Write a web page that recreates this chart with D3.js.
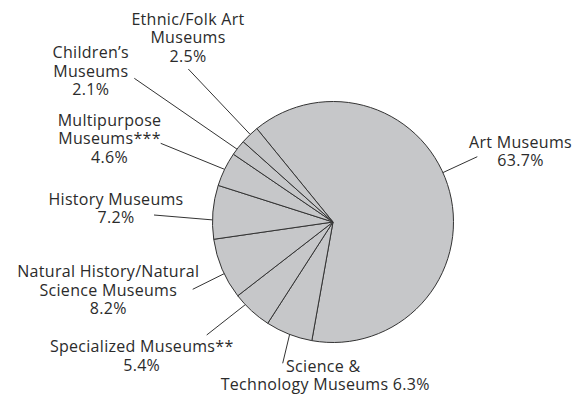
<!DOCTYPE html>
<html>
<head>
<meta charset="utf-8">
<script src="https://cdn.jsdelivr.net/npm/d3@7"></script>
<style>
  html, body { margin: 0; padding: 0; background: #fff; }
  svg { display: block; }
  text { font-family: "Open Sans", "DejaVu Sans", sans-serif; fill: #2b2b2b; }
</style>
</head>
<body>
<svg id="chart" width="581" height="396"></svg>
<script>
// Museum types, clockwise from the top-right
const categories = [
  "Art Museums",
  "Science & Technology Museums",
  "Specialized Museums**",
  "Natural History/Natural Science Museums",
  "History Museums",
  "Multipurpose Museums***",
  "Children's Museums",
  "Ethnic/Folk Art Museums"
];
const shares = [63.7, 6.3, 5.4, 8.2, 7.2, 4.6, 2.1, 2.5];
const valueLabels = ["63.7%", "6.3%", "5.4%", "8.2%", "7.2%", "4.6%", "2.1%", "2.5%"];

// Label text lines (the value label is appended where {v} appears)
const labelLines = [
  ["Art Museums", "{v}"],
  ["Science &", "Technology Museums {v}"],
  ["Specialized Museums**", "{v}"],
  ["Natural History/Natural", "Science Museums", "{v}"],
  ["History Museums", "{v}"],
  ["Multipurpose", "Museums***", "{v}"],
  ["Children\u2019s", "Museums", "{v}"],
  ["Ethnic/Folk Art", "Museums", "{v}"]
];

// Layout: label block anchor, first baseline, leader angle on the rim, leader end
const layout = [
  { x: 520.5, y: 147.7, anchor: "middle", rim: 65.8,   end: [477.3, 156.7] },
  { x: 286,   y: 372,   anchor: "start",  rim: -158.9, end: [282.7, 363.3], lines2: 220.7 },
  { x: 141.7, y: 352.3, anchor: "middle", rim: -133.3, end: [206.7, 335] },
  { x: 108.3, y: 277.3, anchor: "middle", rim: -115.4, end: [192.7, 289.3] },
  { x: 116,   y: 204.5, anchor: "middle", rim: -89,    end: [154, 215] },
  { x: 109.5, y: 126,   anchor: "middle", rim: -64.1,  end: [160.7, 143.3] },
  { x: 90.8,  y: 58.3,  anchor: "middle", rim: -52.8,  end: [134.3, 78.3] },
  { x: 188,   y: 25,    anchor: "middle", rim: -43.4,  end: [188.3, 69] }
];

const cx = 333, cy = 222, radius = 120.5;
const lineHeight = 18.4;
const deg = Math.PI / 180;

const svg = d3.select("#chart");
const g = svg.append("g").attr("transform", `translate(${cx},${cy})`);

const pie = d3.pie()
  .sort(null)
  .value(d => d)
  .startAngle(-39.2 * deg)
  .endAngle(-39.2 * deg + 2 * Math.PI);

const arc = d3.arc().innerRadius(0).outerRadius(radius);

g.selectAll("path.slice")
  .data(pie(shares))
  .join("path")
  .attr("class", "slice")
  .attr("d", arc)
  .attr("fill", "#c6c7c9")
  .attr("stroke", "#333")
  .attr("stroke-width", 1)
  .attr("stroke-linejoin", "round");

// Leader lines
svg.selectAll("line.leader")
  .data(layout)
  .join("line")
  .attr("class", "leader")
  .attr("x1", d => cx + radius * Math.sin(d.rim * deg))
  .attr("y1", d => cy - radius * Math.cos(d.rim * deg))
  .attr("x2", d => d.end[0])
  .attr("y2", d => d.end[1])
  .attr("stroke", "#333")
  .attr("stroke-width", 1);

// Labels, one text element per line
const labelRows = [];
layout.forEach((L, i) => {
  labelLines[i].forEach((ln, j) => {
    labelRows.push({
      x: (j > 0 && L.lines2 !== undefined) ? L.lines2 : L.x,
      y: L.y + j * lineHeight,
      anchor: (j > 0 && L.lines2 !== undefined) ? "start" : L.anchor,
      text: ln.replace("{v}", valueLabels[i])
    });
  });
});

svg.selectAll("text.label")
  .data(labelRows)
  .join("text")
  .attr("class", "label")
  .attr("x", d => d.x)
  .attr("y", d => d.y)
  .attr("text-anchor", d => d.anchor)
  .attr("font-size", 16)
  .attr("letter-spacing", 0.3)
  .text(d => d.text);
</script>
</body>
</html>
